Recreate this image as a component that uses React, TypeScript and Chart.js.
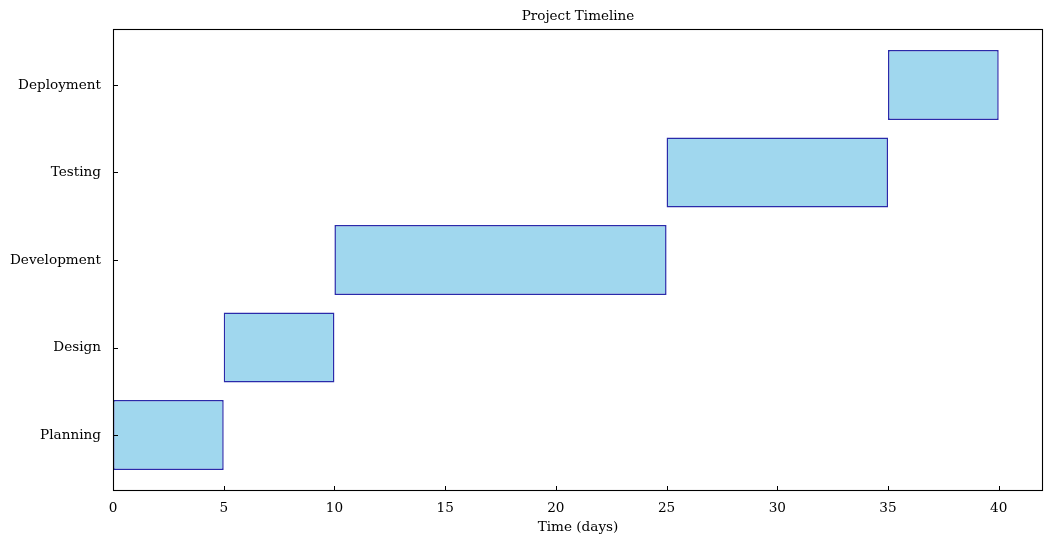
import React, { useEffect, useRef } from "react";
import { Chart, registerables } from "chart.js";

Chart.register(...registerables);

const tasks = ["Planning", "Design", "Development", "Testing", "Deployment"];
const starts = [0, 5, 10, 25, 35];
const durations = [5, 5, 15, 10, 5];
const xTicks = [0, 5, 10, 15, 20, 25, 30, 35, 40];
const chartTitle = "Project Timeline";

const FONT = "'DejaVu Serif', serif";

const framePlugin = {
  id: "frameTicks",
  afterDraw(chart: any) {
    const { ctx, chartArea } = chart;
    const { left, right, top, bottom } = chartArea;
    const xs = chart.scales.x;
    const ys = chart.scales.y;
    ctx.save();
    ctx.strokeStyle = "#000";
    ctx.lineWidth = 1.1;
    ctx.strokeRect(left + 0.5, top + 0.5, right - left - 1, bottom - top - 1);
    ctx.lineWidth = 1;
    ctx.beginPath();
    xTicks.forEach((v) => {
      const px = Math.round(xs.getPixelForValue(v)) + 0.5;
      ctx.moveTo(px, bottom);
      ctx.lineTo(px, bottom - 5);
    });
    tasks.forEach((_, i) => {
      const py = Math.round(ys.getPixelForValue(i)) + 0.5;
      ctx.moveTo(left, py);
      ctx.lineTo(left + 5, py);
    });
    ctx.stroke();
    ctx.fillStyle = "#000";
    ctx.font = `13.5px ${FONT}`;
    ctx.textAlign = "center";
    ctx.textBaseline = "middle";
    ctx.fillText(chartTitle, (left + right) / 2, 16);
    ctx.restore();
  },
};

export default function App() {
  const ref = useRef<HTMLCanvasElement>(null);
  useEffect(() => {
    if (!ref.current) return;
    const chart = new Chart(ref.current, {
      type: "bar",
      data: {
        datasets: [
          {
            data: tasks.map((_, i) => ({ x: [starts[i], starts[i] + durations[i]], y: i })) as any,
            backgroundColor: "#a0d7ee",
            borderColor: "#2a2aaa",
            borderWidth: 1.5,
            borderSkipped: false,
            categoryPercentage: 1,
            barPercentage: 0.8,
          },
        ],
      },
      options: {
        indexAxis: "y",
        responsive: false,
        animation: false,
        devicePixelRatio: 1,
        layout: { padding: { left: 0, right: 10, top: 29, bottom: 0 } },
        plugins: {
          legend: { display: false },
          tooltip: { enabled: false },
          title: { display: false },
        },
        scales: {
          x: {
            type: "linear",
            min: 0,
            max: 42,
            offset: false,
            afterFit: (s: any) => {
              s.height = 55;
            },
            afterBuildTicks: (s: any) => {
              s.ticks = xTicks.map((v) => ({ value: v }));
            },
            grid: { display: false, drawTicks: false },
            border: { display: false },
            ticks: {
              color: "#000",
              padding: 9,
              maxRotation: 0,
              autoSkip: false,
              font: { family: FONT, size: 13.6 },
              callback: (v: any) => String(v),
            },
            title: {
              display: true,
              text: "Time (days)",
              color: "#000",
              font: { family: FONT, size: 13.6 },
              padding: { top: 0, bottom: 10 },
            },
          },
          y: {
            type: "linear",
            min: -0.64,
            max: 4.64,
            offset: false,
            afterFit: (s: any) => {
              s.width = 113;
            },
            afterBuildTicks: (s: any) => {
              s.ticks = tasks.map((_, i) => ({ value: i }));
            },
            grid: { display: false, drawTicks: false, offset: false },
            border: { display: false },
            ticks: {
              color: "#000",
              padding: 12,
              autoSkip: false,
              font: { family: FONT, size: 13.6 },
              callback: (v: any) => tasks[v as number] ?? "",
            },
          },
        },
      },
      plugins: [framePlugin],
    });
    return () => chart.destroy();
  }, []);
  return (
    <div style={{ position: "absolute", left: 0, top: 0, width: 1053, height: 546, background: "#fff" }}>
      <canvas ref={ref} width={1053} height={546} style={{ width: 1053, height: 546 }} />
    </div>
  );
}
